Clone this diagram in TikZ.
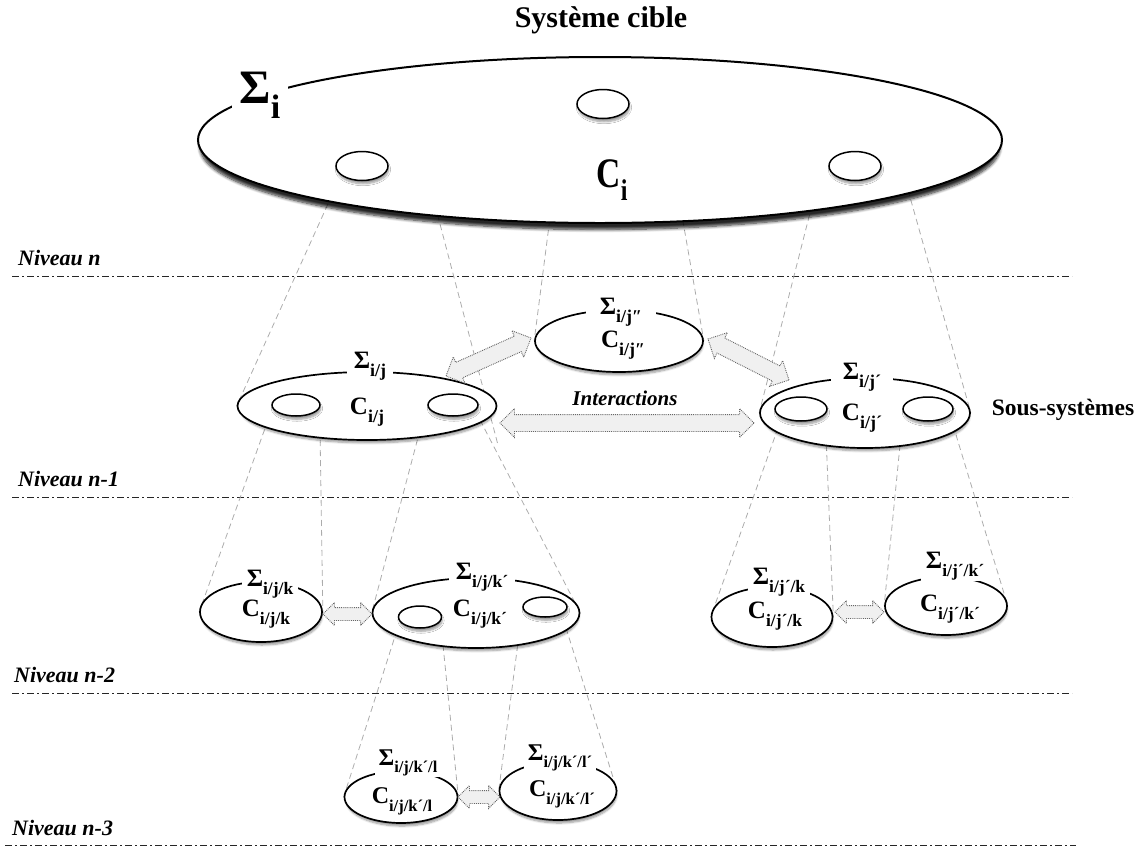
\documentclass[tikz,border=0pt]{standalone}
\usepackage{fontspec}
\setmainfont{Liberation Serif}
\newfontfamily\condfont[FakeStretch=0.8]{Liberation Serif}
\usetikzlibrary{shapes.geometric,shapes.arrows,calc,shadows.blur}
\pgfdeclarelayer{bg}
\pgfsetlayers{bg,main}
\newcommand\lbl[4]{{\fontsize{#1}{#1}\selectfont\bfseries #3\raisebox{-0.32em}{\fontsize{#2}{#2}\selectfont #4}}}
\newcommand\iarr[4][]{\path let \p1=(#3), \p2=(#4), \n1={atan2(\y2-\y1,\x2-\x1)}, \n2={veclen(\x2-\x1,\y2-\y1)} in node[iarrow,#1,rotate=\n1,minimum height=\n2] (#2) at ($(#3)!0.5!(#4)$) {};}
\tikzset{
 ell/.style={ellipse, draw=black, line width=1.7pt, fill=white, inner sep=0pt},
 shad/.style={blur shadow={shadow xshift=1pt, shadow yshift=-3.5pt, shadow scale=0.985, shadow blur steps=6, shadow opacity=40, shadow blur radius=2pt}},
 bigshad/.style={blur shadow={shadow xshift=0pt, shadow yshift=-7pt, shadow scale=0.995, shadow blur steps=8, shadow opacity=85, shadow blur radius=3pt}},
 hole/.style={ell, line width=1.5pt, shad},
 conn/.style={draw=gray!65, dash pattern=on 6pt off 4pt, line width=0.8pt},
 level/.style={draw=black!85, line width=0.9pt, dash pattern=on 7pt off 3pt on 2pt off 3pt},
 niv/.style={font=\fontsize{22}{22}\selectfont\bfseries\itshape, anchor=west, inner sep=0pt},
 iarrow/.style={double arrow, draw=black!60, densely dotted, fill=gray!12, line width=0.9pt, inner xsep=0pt, inner ysep=8pt, double arrow head extend=6pt, double arrow tip angle=90, double arrow head indent=0pt},
 sarrow/.style={inner ysep=6pt, double arrow head extend=5pt},
 slab/.style={fill=white, inner xsep=7pt, inner ysep=1pt},
 clab/.style={inner sep=0pt},
}
\begin{document}
\begin{tikzpicture}[x=1pt,y=-1pt]
\useasboundingbox (0,0) rectangle (1141,847);

% ---------- title
\node[font=\fontsize{30}{30}\selectfont\bfseries, inner sep=0pt] (title) at (601,20) {Système cible};

% ---------- target system
\node[ell, line width=2pt, bigshad, minimum width=804pt, minimum height=166pt] (big) at (600,140) {};
\node[hole, minimum width=52pt, minimum height=29pt] (h1) at (603,104) {};
\node[hole, minimum width=52pt, minimum height=29pt] (h2) at (362,166) {};
\node[hole, minimum width=52pt, minimum height=29pt] (h3) at (855,166) {};
\node[fill=white, inner xsep=8pt, inner ysep=8pt] (sigi) at (260,95) {\lbl{48}{34}{Σ}{i}};
\node[inner sep=0pt] (ci) at (612,180) {{\condfont\lbl{42}{30}{C}{i}}};

% ---------- level n-1
\node[ell, shad, minimum width=259pt, minimum height=68pt] (sj) at (367,406) {};
\node[hole, minimum width=48pt, minimum height=22pt] (sjh1) at (296,405) {};
\node[hole, minimum width=50pt, minimum height=22pt] (sjh2) at (453,405) {};
\node[slab] (sjS) at (370,366) {\lbl{25}{18}{Σ}{i/j}};
\node[clab] (sjC) at (367,412) {\lbl{25}{18}{C}{i/j}};

\node[ell, shad, minimum width=168pt, minimum height=62pt] (sj2) at (619,341) {};
\node[slab, inner xsep=14pt] (sj2S) at (621,312) {\lbl{25}{18}{Σ}{i/j″}};
\node[clab] (sj2C) at (623,345) {\lbl{25}{18}{C}{i/j″}};

\node[ell, shad, minimum width=210pt, minimum height=70pt] (sj1) at (865,413) {};
\node[hole, minimum width=52pt, minimum height=24pt] (sj1h1) at (801,409) {};
\node[hole, minimum width=50pt, minimum height=24pt] (sj1h2) at (928,409) {};
\node[slab, inner xsep=12pt] (sj1S) at (862,377) {\lbl{25}{18}{Σ}{i/j´}};
\node[clab] (sj1C) at (862,418) {\lbl{25}{18}{C}{i/j´}};

\node[font=\fontsize{21}{21}\selectfont\bfseries\itshape, inner sep=0pt] (inter) at (625,398) {Interactions};
\node[font=\fontsize{23.5}{23.5}\selectfont\bfseries, inner sep=0pt] (sous) at (1063,410) {Sous-systèmes};

% ---------- level n-2
\node[ell, shad, minimum width=122pt, minimum height=60pt] (sjk) at (261,612) {};
\node[slab, inner xsep=5pt] (sjkS) at (270,584) {\lbl{25}{17.5}{Σ}{i/j/k}};
\node[clab] (sjkC) at (266,614) {\lbl{25}{17.5}{C}{i/j/k}};

\node[ell, shad, minimum width=207pt, minimum height=70pt] (sjk1) at (476,613) {};
\node[hole, minimum width=43pt, minimum height=22pt] (sjk1h1) at (420,617) {};
\node[hole, minimum width=44pt, minimum height=20pt] (sjk1h2) at (545,607) {};
\node[slab] (sjk1S) at (482,577) {\lbl{25}{17.5}{Σ}{i/j/k´}};
\node[clab] (sjk1C) at (480,614) {\lbl{25}{17.5}{C}{i/j/k´}};

\node[ell, shad, minimum width=121pt, minimum height=60pt] (sj1k) at (772,617) {};
\node[slab, inner xsep=5pt] (sj1kS) at (779,582) {\lbl{25}{17.5}{Σ}{i/j´/k}};
\node[clab] (sj1kC) at (775,616) {\lbl{25}{17.5}{C}{i/j´/k}};

\node[ell, shad, minimum width=122pt, minimum height=58pt] (sj1k1) at (946,606) {};
\node[slab, inner xsep=5pt] (sj1k1S) at (955,566) {\lbl{25}{17.5}{Σ}{i/j´/k´}};
\node[clab] (sj1k1C) at (950,609) {\lbl{25}{17.5}{C}{i/j´/k´}};

% ---------- level n-3
\node[ell, shad, minimum width=113pt, minimum height=52pt] (sjk1l) at (401,797) {};
\node[slab, inner xsep=4pt] (sjk1lS) at (408,763) {\lbl{24}{16.5}{Σ}{i/j/k´/l}};
\node[clab] (sjk1lC) at (402,801) {\lbl{24}{16.5}{C}{i/j/k´/l}};

\node[ell, shad, minimum width=117pt, minimum height=58pt] (sjk1l1) at (558,791) {};
\node[slab, inner xsep=4pt] (sjk1l1S) at (560,758) {\lbl{24}{16.5}{Σ}{i/j/k´/l´}};
\node[clab] (sjk1l1C) at (562,794) {\lbl{24}{16.5}{C}{i/j/k´/l´}};

% ---------- level labels
\node[niv] (nivn) at (18,258) {Niveau n};
\node[niv] (nivn1) at (18,479) {Niveau n-1};
\node[niv] (nivn2) at (14,675) {Niveau n-2};
\node[niv] (nivn3) at (12,828) {Niveau n-3};

% ---------- interaction arrows
\coordinate (a1s) at (446,376); \coordinate (a1e) at (531,338);
\coordinate (a2s) at (708,339); \coordinate (a2e) at (789,380);
\coordinate (a3s) at (500,423); \coordinate (a3e) at (754,423);
\coordinate (a4s) at (323,614); \coordinate (a4e) at (372,614);
\coordinate (a5s) at (835,612); \coordinate (a5e) at (884,612);
\coordinate (a6s) at (458,797); \coordinate (a6e) at (500,797);
\iarr{arr1}{a1s}{a1e}
\iarr{arr2}{a2s}{a2e}
\iarr{arr3}{a3s}{a3e}
\iarr[sarrow]{arr4}{a4s}{a4e}
\iarr[sarrow]{arr5}{a5s}{a5e}
\iarr[sarrow]{arr6}{a6s}{a6e}

% ---------- background: level lines and projection lines
\begin{pgfonlayer}{bg}
\coordinate (L0a) at (12,276);  \coordinate (L0b) at (1072,276);
\coordinate (L1a) at (12,497);  \coordinate (L1b) at (1072,497);
\coordinate (L2a) at (12,693);  \coordinate (L2b) at (1072,693);
\coordinate (L3a) at (5,845);   \coordinate (L3b) at (1076,845);
\draw[level] (L0a) -- (L0b);
\draw[level] (L1a) -- (L1b);
\draw[level] (L2a) -- (L2b);
\draw[level] (L3a) -- (L3b);

\coordinate (p1) at (332,195); \coordinate (p2) at (435,205); \coordinate (e2) at (498,445);
\coordinate (p3) at (551,210); \coordinate (p4) at (681,210);
\coordinate (p5) at (812,205); \coordinate (p6) at (908,190);
\draw[conn] (p1) -- (sj.west);
\draw[conn] (p2) -- (e2);
\draw[conn] (p3) -- (sj2.west);
\draw[conn] (p4) -- (sj2.east);
\draw[conn] (p5) -- (sj1.west);
\draw[conn] (p6) -- (sj1.east);

\coordinate (qA) at (268,420); \coordinate (qB) at (320,430);
\coordinate (qC) at (420,430); \coordinate (qD) at (480,420);
\coordinate (qE) at (778,428); \coordinate (qF) at (826,435);
\coordinate (qG) at (901,435); \coordinate (qH) at (953,425);
\draw[conn] (qA) -- (sjk.west);
\draw[conn] (qB) -- (sjk.east);
\draw[conn] (qC) -- (sjk1.west);
\draw[conn] (qD) -- (sjk1.east);
\draw[conn] (qE) -- (sj1k.west);
\draw[conn] (qF) -- (sj1k.east);
\draw[conn] (qG) -- (sj1k1.west);
\draw[conn] (qH) -- (sj1k1.east);

\coordinate (rI) at (397,630); \coordinate (rJ) at (442,635);
\coordinate (rK) at (519,635); \coordinate (rL) at (566,628);
\draw[conn] (rI) -- (sjk1l.west);
\draw[conn] (rJ) -- (sjk1l.east);
\draw[conn] (rK) -- (sjk1l1.west);
\draw[conn] (rL) -- (sjk1l1.east);
\end{pgfonlayer}
\end{tikzpicture}
\end{document}
